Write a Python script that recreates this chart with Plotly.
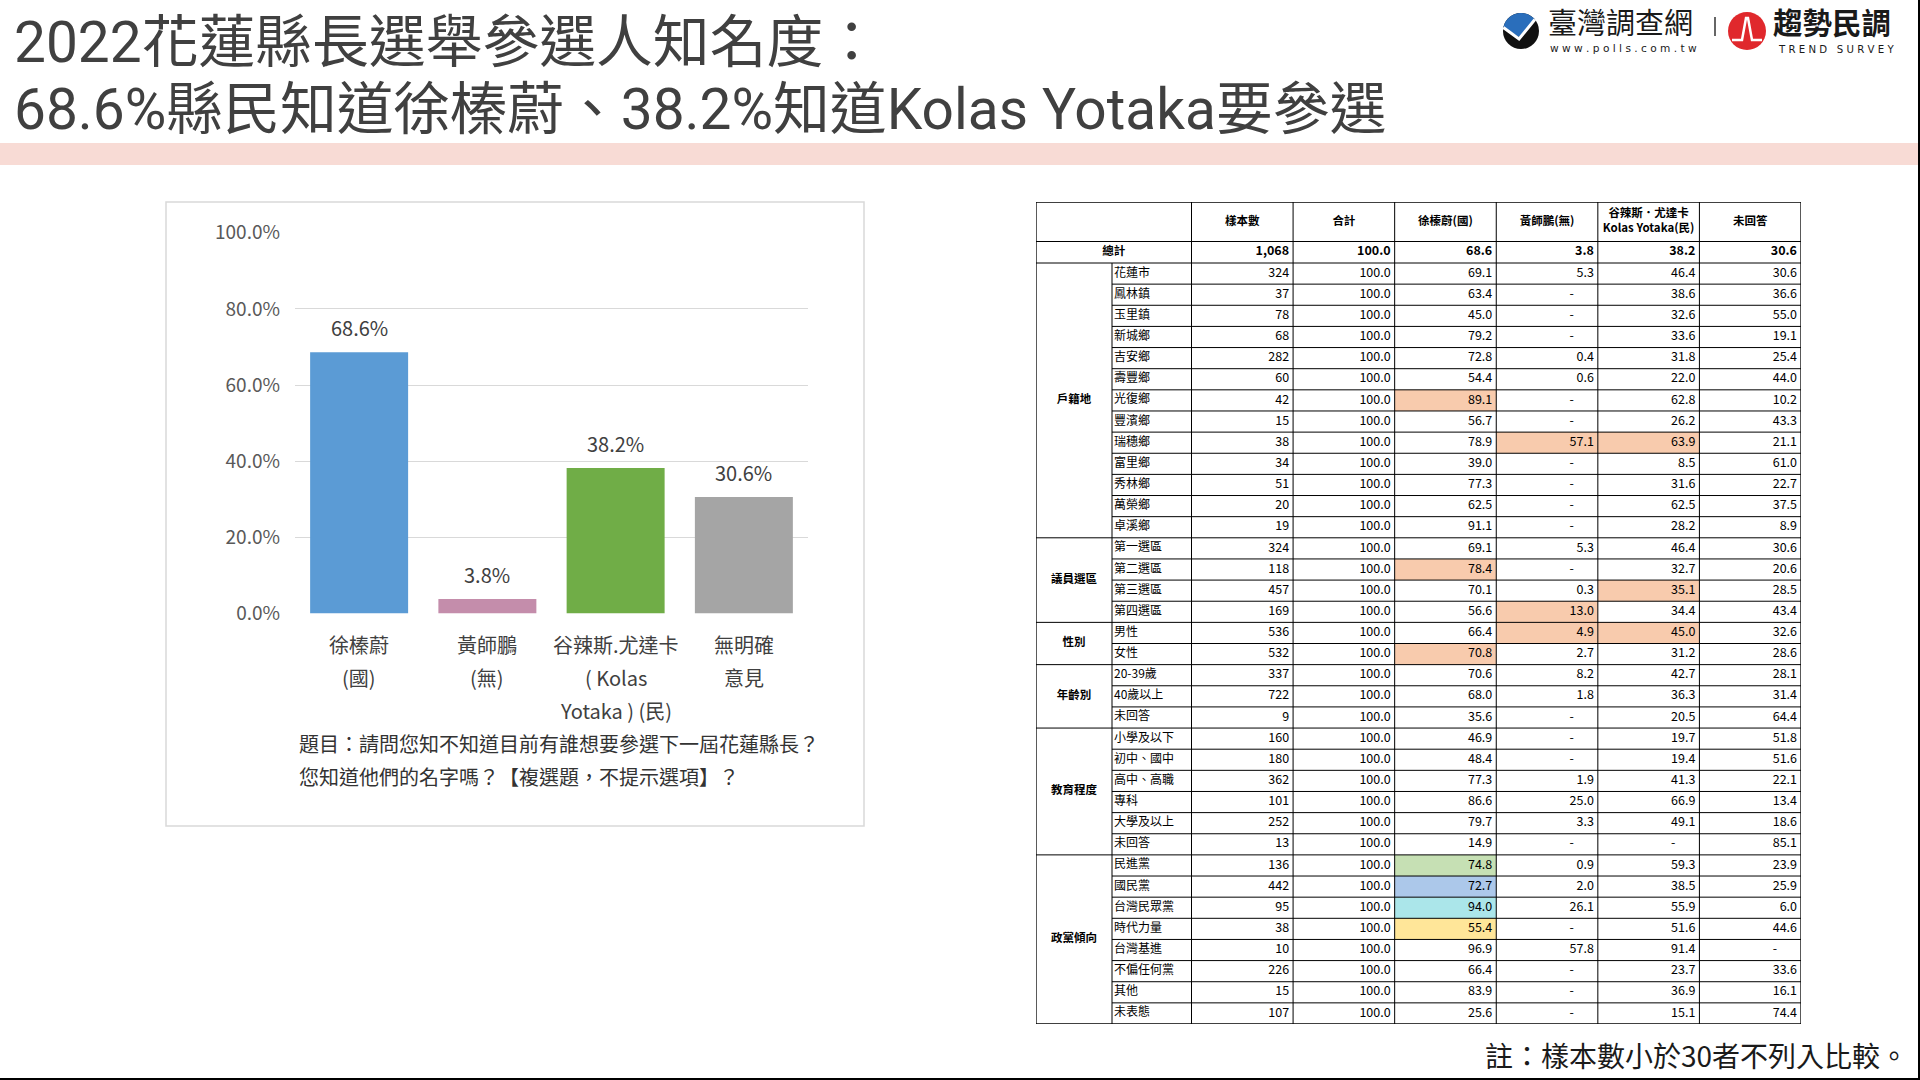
import math
import plotly.graph_objects as go

W, H = 1920, 1080
FONT = "Noto Sans CJK TC"
TITLE_FONT = "Roboto, Noto Sans CJK TC"

# ---------------- data ----------------
cand_labels = [["徐榛蔚", "(國)"], ["黃師鵬", "(無)"],
               ["谷辣斯.尤達卡", "( Kolas", "Yotaka ) (民)"], ["無明確", "意見"]]
cand_values = [68.6, 3.8, 38.2, 30.6]
cand_colors = ["#5B9BD5", "#C48DAB", "#70AD47", "#A5A5A5"]
y_ticks = [0, 20, 40, 60, 80, 100]
y_tick_text = ["0.0%", "20.0%", "40.0%", "60.0%", "80.0%", "100.0%"]

table_header = ["樣本數", "合計", "徐榛蔚(國)", "黃師鵬(無)", "谷辣斯．尤達卡<br>Kolas Yotaka(民)", "未回答"]
total_label = "總計"
total_row = [1068, 100.0, 68.6, 3.8, 38.2, 30.6]

group_names = ["戶籍地", "議員選區", "性別", "年齡別", "教育程度", "政黨傾向"]
group_sizes = [13, 4, 2, 3, 6, 8]
row_labels = ["花蓮市", "鳳林鎮", "玉里鎮", "新城鄉", "吉安鄉", "壽豐鄉", "光復鄉", "豐濱鄉", "瑞穗鄉",
              "富里鄉", "秀林鄉", "萬榮鄉", "卓溪鄉",
              "第一選區", "第二選區", "第三選區", "第四選區",
              "男性", "女性",
              "20-39歲", "40歲以上", "未回答",
              "小學及以下", "初中、國中", "高中、高職", "專科", "大學及以上", "未回答",
              "民進黨", "國民黨", "台灣民眾黨", "時代力量", "台灣基進", "不偏任何黨", "其他", "未表態"]
n_sample = [324, 37, 78, 68, 282, 60, 42, 15, 38, 34, 51, 20, 19,
            324, 118, 457, 169,
            536, 532,
            337, 722, 9,
            160, 180, 362, 101, 252, 13,
            136, 442, 95, 38, 10, 226, 15, 107]
pct_total = [100.0, 100.0, 100.0, 100.0, 100.0, 100.0, 100.0, 100.0, 100.0, 100.0, 100.0, 100.0, 100.0,
             100.0, 100.0, 100.0, 100.0,
             100.0, 100.0,
             100.0, 100.0, 100.0,
             100.0, 100.0, 100.0, 100.0, 100.0, 100.0,
             100.0, 100.0, 100.0, 100.0, 100.0, 100.0, 100.0, 100.0]
pct_xu = [69.1, 63.4, 45.0, 79.2, 72.8, 54.4, 89.1, 56.7, 78.9, 39.0, 77.3, 62.5, 91.1,
          69.1, 78.4, 70.1, 56.6,
          66.4, 70.8,
          70.6, 68.0, 35.6,
          46.9, 48.4, 77.3, 86.6, 79.7, 14.9,
          74.8, 72.7, 94.0, 55.4, 96.9, 66.4, 83.9, 25.6]
pct_huang = [5.3, None, None, None, 0.4, 0.6, None, None, 57.1, None, None, None, None,
             5.3, None, 0.3, 13.0,
             4.9, 2.7,
             8.2, 1.8, None,
             None, None, 1.9, 25.0, 3.3, None,
             0.9, 2.0, 26.1, None, 57.8, None, None, None]
pct_kolas = [46.4, 38.6, 32.6, 33.6, 31.8, 22.0, 62.8, 26.2, 63.9, 8.5, 31.6, 62.5, 28.2,
             46.4, 32.7, 35.1, 34.4,
             45.0, 31.2,
             42.7, 36.3, 20.5,
             19.7, 19.4, 41.3, 66.9, 49.1, None,
             59.3, 38.5, 55.9, 51.6, 91.4, 23.7, 36.9, 15.1]
pct_na = [30.6, 36.6, 55.0, 19.1, 25.4, 44.0, 10.2, 43.3, 21.1, 61.0, 22.7, 37.5, 8.9,
          30.6, 20.6, 28.5, 43.4,
          32.6, 28.6,
          28.1, 31.4, 64.4,
          51.8, 51.6, 22.1, 13.4, 18.6, 85.1,
          23.9, 25.9, 6.0, 44.6, None, 33.6, 16.1, 74.4]
# (row index, column index, fill)
highlights = [(6, 2, "#F8CBAD"), (8, 3, "#F8CBAD"), (8, 4, "#F8CBAD"),
              (14, 2, "#F8CBAD"), (15, 4, "#F8CBAD"), (16, 3, "#F8CBAD"),
              (17, 3, "#F8CBAD"), (17, 4, "#F8CBAD"), (18, 2, "#F8CBAD"),
              (28, 2, "#C6E0B4"), (29, 2, "#ACC8EA"), (30, 2, "#ABE6EA"), (31, 2, "#FFE699")]

title_lines = ["2022花蓮縣長選舉參選人知名度：",
               "68.6%縣民知道徐榛蔚、38.2%知道Kolas Yotaka要參選"]
question_lines = ["題目：請問您知不知道目前有誰想要參選下一屆花蓮縣長？",
                  "您知道他們的名字嗎？【複選題，不提示選項】？"]
footnote = "註：樣本數小於30者不列入比較。"


# ---------------- helpers ----------------
def px(x):
    return x / W


def py(y):
    return 1 - y / H


fig = go.Figure()
shapes = []
annos = []

# ---------------- header decoration ----------------
shapes.append(dict(type="rect", xref="paper", yref="paper", x0=0, x1=1, y0=py(165), y1=py(143),
                   fillcolor="#F8DBD5", line=dict(width=0), layer="below"))
for i, t in enumerate(title_lines):
    annos.append(dict(text=t, x=px(12), y=py(42.5 + 67 * i), xref="paper", yref="paper",
                      xanchor="left", yanchor="middle", showarrow=False,
                      font=dict(family=TITLE_FONT, size=56.8, color="#404040")))

# logo 1 (blue check)
cx, cy, r = 1521, 31, 18
shapes.append(dict(type="circle", xref="paper", yref="paper", x0=px(cx - r), x1=px(cx + r),
                   y0=py(cy + r), y1=py(cy - r), fillcolor="#111111", line=dict(width=0)))
pts = []
for k in range(0, 31):
    a = math.radians(40 + (168 - 40) * k / 30)
    pts.append((cx + r * math.cos(a), cy - r * math.sin(a)))
pts.append((cx - 2, cy + 6))
path = "M " + " L ".join(f"{px(x):.5f},{py(y):.5f}" for x, y in pts) + " Z"
shapes.append(dict(type="path", xref="paper", yref="paper", path=path, fillcolor="#2A6EBB",
                   line=dict(width=0)))
chk = [(cx - r * 0.98, cy - 3.5), (cx - 2, cy + 8), (cx + r * 0.77, cy - r * 0.64)]
shapes.append(dict(type="path", xref="paper", yref="paper",
                   path="M " + " L ".join(f"{px(x):.5f},{py(y):.5f}" for x, y in chk),
                   line=dict(color="white", width=3)))
annos.append(dict(text="臺灣調查網", x=px(1546), y=py(21), xref="paper", yref="paper",
                  xanchor="left", yanchor="middle", showarrow=False,
                  font=dict(family=FONT, size=29, color="#1a1a1a")))
annos.append(dict(text="w w w . p o l l s . c o m . t w", x=px(1623), y=py(48.5), xref="paper", yref="paper",
                  xanchor="center", yanchor="middle", showarrow=False,
                  font=dict(family="DejaVu Sans", size=10.6, color="#1a1a1a")))
shapes.append(dict(type="line", xref="paper", yref="paper", x0=px(1715), x1=px(1715), y0=py(17), y1=py(36),
                   line=dict(color="#333333", width=1.5)))
# logo 2 (red trend)
cx2, cy2, r2 = 1747, 31, 19
shapes.append(dict(type="circle", xref="paper", yref="paper", x0=px(cx2 - r2), x1=px(cx2 + r2),
                   y0=py(cy2 + r2), y1=py(cy2 - r2), fillcolor="#E0282C", line=dict(width=0)))
peak = [(cx2 - 15, cy2 + 9), (cx2 - 5, cy2 + 9), (cx2 - 1, cy2 - 13), (cx2 + 1, cy2 - 13),
        (cx2 + 5, cy2 + 9), (cx2 + 15, cy2 + 9)]
shapes.append(dict(type="path", xref="paper", yref="paper",
                   path="M " + " L ".join(f"{px(x):.5f},{py(y):.5f}" for x, y in peak),
                   line=dict(color="white", width=2.5)))
annos.append(dict(text="<b>趨勢民調</b>", x=px(1771), y=py(21.5), xref="paper", yref="paper",
                  xanchor="left", yanchor="middle", showarrow=False,
                  font=dict(family=FONT, size=29.5, color="#1a1a1a")))
annos.append(dict(text="T R E N D   S U R V E Y", x=px(1836), y=py(49), xref="paper", yref="paper",
                  xanchor="center", yanchor="middle", showarrow=False,
                  font=dict(family="DejaVu Sans", size=10.2, color="#1a1a1a")))

# slide border right & bottom
shapes.append(dict(type="line", xref="paper", yref="paper", x0=0, x1=1, y0=py(1079), y1=py(1079),
                   line=dict(color="#000000", width=2)))
shapes.append(dict(type="line", xref="paper", yref="paper", x0=px(1919), x1=px(1919), y0=0, y1=1,
                   line=dict(color="#000000", width=2)))

# ---------------- bar chart ----------------
shapes.append(dict(type="rect", xref="paper", yref="paper", x0=px(166), x1=px(864), y0=py(826), y1=py(202),
                   fillcolor="rgba(0,0,0,0)", line=dict(color="#D9D9D9", width=1.5)))
cand_keys = ["".join(l) for l in cand_labels]
fig.add_trace(go.Bar(x=cand_keys, y=cand_values, marker=dict(color=cand_colors, line=dict(width=0)),
                     hoverinfo="skip", showlegend=False, xaxis="x", yaxis="y"))
for k, v in zip(cand_keys, cand_values):
    annos.append(dict(text=f"{v:.1f}%", x=k, y=v, xref="x", yref="y", xanchor="center",
                      yanchor="bottom", yshift=8, showarrow=False,
                      font=dict(family=FONT, size=20, color="#404040")))
for k, lines in zip(cand_keys, cand_labels):
    for i, ln in enumerate(lines):
        annos.append(dict(text=ln, x=k, y=0, xref="x", yref="y", xanchor="center", yanchor="middle",
                          yshift=-(31 + 33 * i), showarrow=False,
                          font=dict(family=FONT, size=20, color="#404040")))
for i, t in enumerate(question_lines):
    annos.append(dict(text=t, x=px(297), y=py(743 + 33 * i), xref="paper", yref="paper",
                      xanchor="left", yanchor="middle", showarrow=False,
                      font=dict(family=FONT, size=20, color="#333333")))

# ---------------- table ----------------
TW = 765.0
TH = 822.0
col_edges = [0, 76, 155.5]
data_w = (TW - 155.5) / 6
for j in range(6):
    col_edges.append(155.5 + data_w * (j + 1))
hdr_h, tot_h = 39.5, 21.5
n_rows = len(row_labels)
row_h = (TH - hdr_h - tot_h) / n_rows
row_top = [hdr_h + tot_h + i * row_h for i in range(n_rows)]

for ri, cj, colr in highlights:
    shapes.append(dict(type="rect", xref="x2", yref="y2", x0=col_edges[2 + cj], x1=col_edges[3 + cj],
                       y0=row_top[ri], y1=row_top[ri] + row_h, fillcolor=colr, line=dict(width=0),
                       layer="below"))

LC = "#000000"
for e in col_edges:
    if e == 76:
        shapes.append(dict(type="line", xref="x2", yref="y2", x0=e, x1=e, y0=hdr_h + tot_h, y1=TH,
                           line=dict(color=LC, width=1)))
    else:
        shapes.append(dict(type="line", xref="x2", yref="y2", x0=e, x1=e, y0=0, y1=TH,
                           line=dict(color=LC, width=1.3 if e in (0, TW) else 1)))
for yv in (0, hdr_h, hdr_h + tot_h, TH):
    shapes.append(dict(type="line", xref="x2", yref="y2", x0=0, x1=TW, y0=yv, y1=yv,
                       line=dict(color=LC, width=1.3 if yv in (0, TH) else 1)))
gstart = 0
group_bounds = []
for gs in group_sizes:
    group_bounds.append((gstart, gstart + gs))
    gstart += gs
for i in range(1, n_rows):
    is_group = any(i == a for a, b in group_bounds)
    shapes.append(dict(type="line", xref="x2", yref="y2", x0=0 if is_group else 76, x1=TW,
                       y0=row_top[i], y1=row_top[i], line=dict(color=LC, width=1)))


def fmt(v):
    return "-" if v is None else f"{v:.1f}"


cx_t, cy_t, ct = [], [], []
for j, h in enumerate(table_header):
    cx_t.append((col_edges[2 + j] + col_edges[3 + j]) / 2)
    cy_t.append(hdr_h / 2)
    ct.append(f"<b>{h}</b>")
cx_t.append(155.5 / 2)
cy_t.append(hdr_h + tot_h / 2)
ct.append(f"<b>{total_label}</b>")
for (a, b), g in zip(group_bounds, group_names):
    cx_t.append(38)
    cy_t.append((row_top[a] + row_top[b - 1] + row_h) / 2)
    ct.append(f"<b>{g}</b>")
fig.add_trace(go.Scatter(x=cx_t, y=cy_t, text=ct, mode="text", textposition="middle center",
                         textfont=dict(family=FONT, size=11.5, color="#000000"),
                         hoverinfo="skip", showlegend=False, xaxis="x2", yaxis="y2"))

fig.add_trace(go.Scatter(x=[78] * n_rows, y=[t + row_h / 2 for t in row_top], text=row_labels,
                         mode="text", textposition="middle right",
                         textfont=dict(family=FONT, size=12, color="#000000"),
                         hoverinfo="skip", showlegend=False, xaxis="x2", yaxis="y2"))

nx, ny, nt = [], [], []
total_txt = [f"{total_row[0]:,}"] + [fmt(v) for v in total_row[1:]]
for j, t in enumerate(total_txt):
    nx.append(col_edges[3 + j] - 4)
    ny.append(hdr_h + tot_h / 2)
    nt.append(f"<b>{t}</b>")
cols = [[str(v) for v in n_sample], [fmt(v) for v in pct_total], [fmt(v) for v in pct_xu],
        [fmt(v) for v in pct_huang], [fmt(v) for v in pct_kolas], [fmt(v) for v in pct_na]]
for j, col in enumerate(cols):
    for i, t in enumerate(col):
        nx.append(col_edges[3 + j] - (24 if t == "-" else 4))
        ny.append(row_top[i] + row_h / 2)
        nt.append(t)
fig.add_trace(go.Scatter(x=nx, y=ny, text=nt, mode="text", textposition="middle left",
                         textfont=dict(family=FONT, size=12.5, color="#000000"),
                         hoverinfo="skip", showlegend=False, xaxis="x2", yaxis="y2"))

annos.append(dict(text=footnote, x=px(1910), y=py(1055), xref="paper", yref="paper",
                  xanchor="right", yanchor="middle", showarrow=False,
                  font=dict(family=FONT, size=28, color="#1a1a1a")))

fig.update_layout(
    width=W, height=H, autosize=False,
    margin=dict(l=0, r=0, t=0, b=0, pad=0, autoexpand=False),
    paper_bgcolor="white", plot_bgcolor="rgba(0,0,0,0)",
    bargap=0.236, showlegend=False,
    xaxis=dict(domain=[px(295), px(808)], showticklabels=False, showgrid=False, zeroline=False,
               showline=False, ticks="", fixedrange=True, automargin=False),
    yaxis=dict(domain=[py(613.5), py(232.7)], range=[0, 100], tickvals=y_ticks, ticktext=y_tick_text,
               showgrid=True, gridcolor="#D9D9D9", gridwidth=1.3,
               zeroline=False, showline=False, ticks="", ticklabelstandoff=14, automargin=False,
               tickfont=dict(family=FONT, size=19, color="#595959"), fixedrange=True),
    xaxis2=dict(domain=[px(1036), px(1801)], range=[0, TW], visible=False, fixedrange=True,
                automargin=False),
    yaxis2=dict(domain=[py(1024), py(202)], range=[TH, 0], visible=False, fixedrange=True,
                automargin=False),
    shapes=shapes, annotations=annos,
)

fig.write_html("out.html", config={"displayModeBar": False, "responsive": False},
               post_script="document.body.style.margin='0';document.body.style.overflow='hidden';")
